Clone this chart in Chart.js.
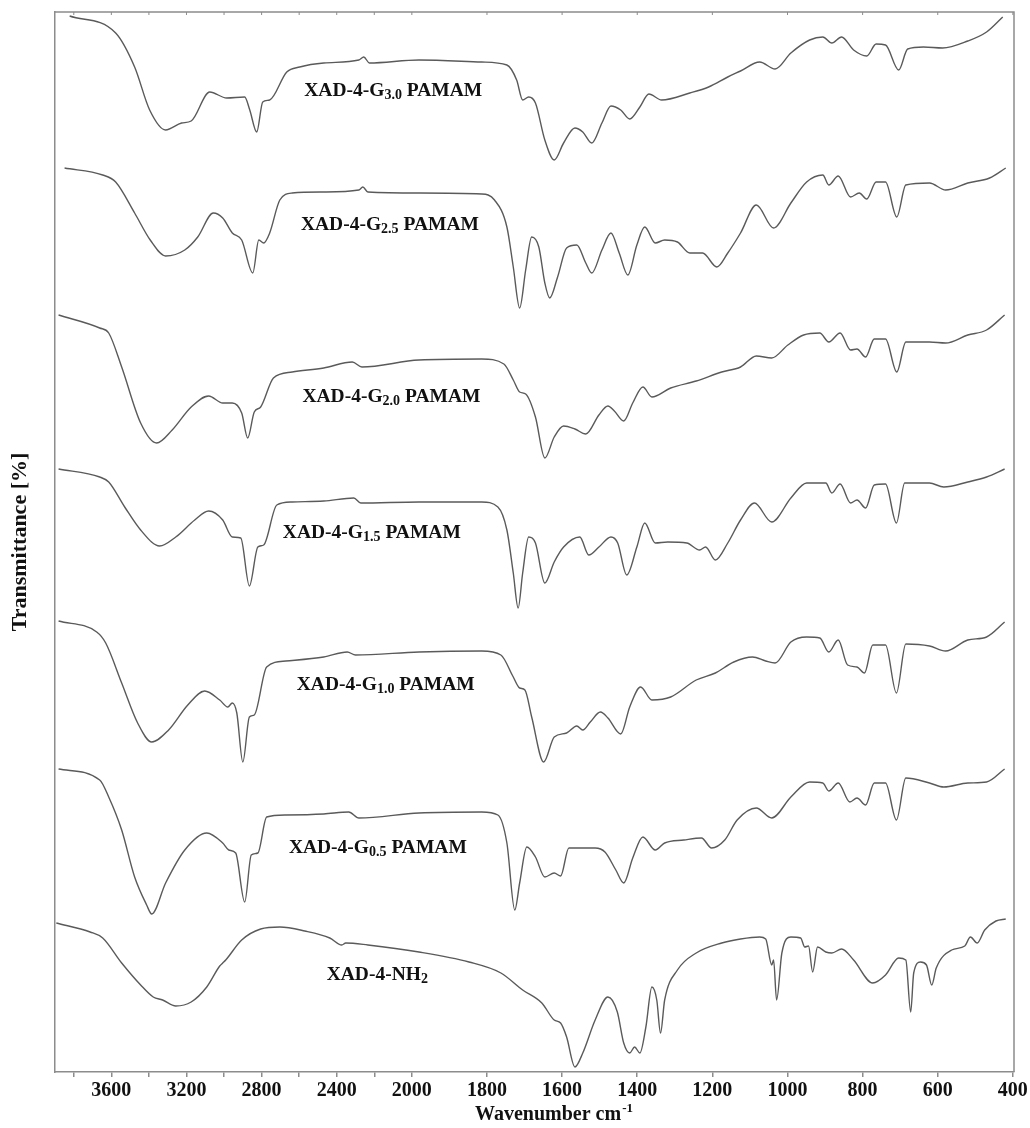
<!DOCTYPE html>
<html>
<head>
<meta charset="utf-8">
<script src="https://cdn.jsdelivr.net/npm/chart.js@4.4.1/dist/chart.umd.min.js"></script>
<style>
html,body{margin:0;padding:0;background:#ffffff;}
#wrap{width:1030px;height:1128px;}
</style>
</head>
<body>
<div id="wrap"><canvas id="c" width="1030" height="1128"></canvas></div>
<script>
// ---------- axis ticks (cm-1) ----------
const xTickValues = [3800,3600,3400,3200,3000,2800,2600,2400,2200,2000,1800,1600,1400,1200,1000,800,600,400];

// ---------- series names ----------
const seriesNames = ['XAD-4-G3.0 PAMAM','XAD-4-G2.5 PAMAM','XAD-4-G2.0 PAMAM','XAD-4-G1.5 PAMAM','XAD-4-G1.0 PAMAM','XAD-4-G0.5 PAMAM','XAD-4-NH2'];

// ---------- spectra: wavenumber (cm-1) and offset transmittance ----------
const wnG30 = [3822,3577,3476,3396,3311,3226,3175,3076,2986,2890,2863,2826,2794,2757,2666,2597,2469,2282,2256,2226,1981,1814,1747,1721,1705,1689,1671,1646,1621,1596,1566,1545,1521,1494,1470,1444,1420,1393,1369,1335,1260,1210,1159,1125,1074,1033,991,941,906,882,856,824,789,764,739,704,680,638,587,520,470,427];
const tG30  = [1056,1039,1005,962,942,949,951,980,974,975,962,940,970,972,1000,1005,1009,1012,1015,1009,1012,1010,1007,992,972,975,969,932,912,929,944,940,929,949,966,962,953,965,978,972,979,985,995,1001,1010,1003,1019,1032,1035,1029,1035,1022,1016,1028,1027,1002,1023,1025,1024,1031,1040,1055];

const wnG25 = [3849,3646,3577,3476,3393,3311,3209,3140,3057,3007,2956,2906,2847,2815,2789,2757,2703,2637,2469,2282,2261,2234,1981,1814,1780,1747,1730,1713,1697,1681,1662,1646,1633,1612,1588,1561,1537,1521,1494,1470,1448,1425,1401,1380,1352,1327,1293,1260,1226,1188,1159,1125,1083,1037,991,949,906,890,865,832,809,789,764,739,709,685,622,579,520,462,419];
const tG25  = [904,897,890,859,832,816,822,835,859,854,839,832,799,832,829,839,872,879,880,882,885,880,879,878,872,845,805,764,802,835,825,789,774,795,824,827,809,799,822,839,819,797,827,845,829,832,830,819,819,805,819,839,867,844,869,890,897,887,896,875,879,873,890,890,855,887,889,882,889,894,904];

const wnG20 = [3881,3662,3614,3545,3444,3359,3276,3175,3082,3007,2956,2906,2874,2839,2805,2737,2637,2469,2317,2266,1981,1814,1755,1730,1713,1697,1671,1646,1621,1596,1566,1537,1502,1478,1461,1436,1412,1385,1361,1311,1243,1175,1125,1083,1042,999,957,914,890,860,832,815,792,769,739,709,685,622,579,520,470,422];
const tG20  = [757,744,739,705,649,629,642,665,676,669,669,659,634,660,665,694,700,704,710,705,712,713,708,692,680,678,655,614,635,646,643,638,657,666,661,651,669,685,675,684,691,700,705,716,714,727,737,739,730,739,722,723,715,733,733,700,730,730,729,737,742,757];

const wnG15 = [3881,3662,3614,3529,3444,3343,3257,3156,3082,3007,2956,2911,2865,2820,2789,2719,2637,2469,2309,2272,1981,1814,1771,1747,1730,1717,1705,1689,1671,1646,1621,1596,1553,1529,1502,1470,1452,1428,1401,1380,1352,1319,1268,1234,1218,1192,1159,1125,1088,1042,991,949,898,882,860,832,815,792,769,739,710,688,622,584,520,470,422];
const tG15  = [603,595,590,565,542,526,535,552,561,552,535,534,486,525,527,567,570,571,574,569,570,570,565,542,499,464,499,535,529,489,510,525,535,517,525,535,529,497,525,549,529,530,529,522,525,512,529,552,569,550,574,589,589,579,588,569,572,564,587,588,549,589,589,585,590,595,603];

const wnG10 = [3881,3678,3630,3545,3460,3385,3295,3193,3103,3023,2980,2956,2932,2900,2865,2839,2773,2671,2469,2344,2300,1981,1814,1763,1730,1713,1699,1681,1649,1621,1588,1561,1545,1525,1498,1478,1444,1420,1391,1361,1311,1243,1192,1143,1093,1058,1033,991,949,914,890,865,840,815,795,773,739,710,685,622,579,520,470,422];
const tG10  = [451,440,429,389,349,330,342,367,381,372,365,369,359,310,355,357,405,411,415,420,417,420,421,417,395,384,382,355,310,335,339,346,342,350,360,354,338,365,385,372,375,392,399,410,415,411,409,430,435,434,420,432,407,405,399,427,427,379,428,426,421,432,435,450];

const wnG05 = [3881,3662,3614,3545,3476,3412,3385,3311,3209,3092,3007,2975,2938,2890,2855,2820,2773,2671,2469,2336,2282,1981,1814,1771,1747,1726,1713,1694,1671,1646,1621,1604,1582,1545,1512,1486,1457,1436,1412,1385,1352,1327,1276,1229,1202,1167,1134,1083,1042,991,941,906,890,865,834,815,792,769,739,710,685,622,584,520,470,422];
const tG05  = [303,292,275,242,195,167,158,189,222,239,229,222,219,170,217,219,255,257,258,260,254,259,260,257,229,162,189,225,215,195,199,196,224,224,224,220,202,189,214,235,222,229,232,234,224,232,252,264,254,275,290,289,281,289,270,274,267,289,289,252,294,289,285,289,290,303];

const wnNH2 = [3893,3713,3646,3545,3444,3377,3327,3257,3175,3092,3023,3007,2991,2906,2805,2703,2570,2437,2373,2352,2234,1981,1848,1763,1705,1654,1621,1604,1588,1566,1545,1512,1478,1453,1436,1420,1407,1393,1377,1361,1348,1338,1327,1293,1243,1175,1125,1074,1058,1042,1037,1029,1015,991,965,954,944,933,920,898,882,856,824,773,739,704,685,672,664,646,630,616,604,563,528,513,495,475,445,419];
const tNH2  = [149,140,134,109,87,75,72,66,70,85,106,109,112,132,143,145,141,134,127,129,127,120,110,99,82,69,52,49,35,5,19,52,75,60,29,19,25,19,45,85,72,39,72,102,119,129,133,135,133,107,112,72,119,135,134,125,126,100,125,120,119,123,112,89,97,114,112,60,99,110,107,87,104,122,126,135,129,142,151,153];

// ---------- in-plot label texts ----------
const labelMain = ['XAD-4-G','XAD-4-G','XAD-4-G','XAD-4-G','XAD-4-G','XAD-4-G','XAD-4-NH'];
const labelSub  = ['3.0','2.5','2.0','1.5','1.0','0.5','2'];
const labelTail = [' PAMAM',' PAMAM',' PAMAM',' PAMAM',' PAMAM',' PAMAM',''];
// label anchors (centre wavenumber, baseline value)
const labelWn = [2099,2117,2109,2213,2139,2181,2184];
const labelT  = [976,842,670,534,382,219,92];

const yTitle = 'Transmittance [%]';
const xTitleMain = 'Wavenumber cm';
const xTitleSup = '-1';

// ---------- styling ----------
const FF = "'Liberation Serif','Times New Roman',serif";
const AXIS = '#8c8c8c';
const LINE = '#5a5a5a';
const TEXT = '#111111';

// ---------- split wavenumber axis (2x compressed above 2000 cm-1) ----------
const BREAK = 2000;
function fwd(v){ return v > BREAK ? BREAK + (v - BREAK) / 2 : v; }
function inv(u){ return u > BREAK ? BREAK + (u - BREAK) * 2 : u; }
class SplitLinearScale extends Chart.LinearScale {
  configure(){
    super.configure();
    this._startValue = fwd(this.min);
    this._endValue = fwd(this.max);
    this._valueRange = this._endValue - this._startValue;
  }
  getPixelForValue(value){
    if (value === null || value === undefined || isNaN(value)) return NaN;
    return this.getPixelForDecimal((fwd(value) - this._startValue) / this._valueRange);
  }
  getValueForPixel(pixel){
    return inv(this._startValue + this.getDecimalForPixel(pixel) * this._valueRange);
  }
}
SplitLinearScale.id = 'splitLinear';
SplitLinearScale.defaults = Chart.LinearScale.defaults;
Chart.register(SplitLinearScale);

// ---------- plugins ----------
const framePlugin = {
  id: 'frame',
  afterDraw(chart){
    const {ctx, chartArea: a, scales: {x}} = chart;
    ctx.save();
    ctx.strokeStyle = AXIS;
    ctx.lineWidth = 1.5;
    ctx.beginPath();
    ctx.moveTo(a.left, a.top);
    ctx.lineTo(a.right, a.top);
    ctx.lineTo(a.right, a.bottom);
    ctx.stroke();
    ctx.lineWidth = 1;
    x.ticks.forEach(t => {
      const px = x.getPixelForValue(t.value);
      ctx.beginPath();
      ctx.moveTo(px, a.top);
      ctx.lineTo(px, a.top + 3);
      ctx.stroke();
    });
    ctx.restore();
  }
};

const traceLabelPlugin = {
  id: 'traceLabels',
  afterDatasetsDraw(chart){
    const {ctx, scales: {x, y}} = chart;
    const big = 'bold 19.5px ' + FF;
    const small = 'bold 14px ' + FF;
    ctx.save();
    ctx.fillStyle = TEXT;
    ctx.textAlign = 'left';
    ctx.textBaseline = 'alphabetic';
    labelMain.forEach((m, i) => {
      ctx.font = big;
      const w1 = ctx.measureText(m).width;
      const w3 = ctx.measureText(labelTail[i]).width;
      ctx.font = small;
      const w2 = ctx.measureText(labelSub[i]).width;
      const cx = x.getPixelForValue(labelWn[i]);
      const by = y.getPixelForValue(labelT[i]);
      let px = cx - (w1 + w2 + w3) / 2;
      ctx.font = big;  ctx.fillText(m, px, by); px += w1;
      ctx.font = small; ctx.fillText(labelSub[i], px, by + 3); px += w2;
      ctx.font = big;  ctx.fillText(labelTail[i], px, by);
    });
    ctx.restore();
  }
};

const xTitlePlugin = {
  id: 'xTitle',
  afterDraw(chart){
    const {ctx, chartArea: a} = chart;
    ctx.save();
    ctx.fillStyle = TEXT;
    ctx.textAlign = 'left';
    ctx.textBaseline = 'alphabetic';
    ctx.font = 'bold 20px ' + FF;
    const w1 = ctx.measureText(xTitleMain).width;
    ctx.font = 'bold 13px ' + FF;
    const w2 = ctx.measureText(xTitleSup).width;
    const cx = (a.left + a.right) / 2 + 19;
    const by = chart.height - 8;
    let px = cx - (w1 + w2) / 2;
    ctx.font = 'bold 20px ' + FF;
    ctx.fillText(xTitleMain, px, by); px += w1 + 1;
    ctx.font = 'bold 13px ' + FF;
    ctx.fillText(xTitleSup, px, by - 8);
    ctx.restore();
  }
};

// ---------- datasets ----------
const wnList = [wnG30, wnG25, wnG20, wnG15, wnG10, wnG05, wnNH2];
const tList  = [tG30, tG25, tG20, tG15, tG10, tG05, tNH2];
const datasets = seriesNames.map((name, k) => ({
  label: name,
  data: wnList[k].map((w, i) => ({x: w, y: tList[k][i]})),
  borderColor: LINE,
  borderWidth: 1.4,
  pointRadius: 0,
  fill: false,
  cubicInterpolationMode: 'monotone'
}));

new Chart(document.getElementById('c'), {
  type: 'line',
  data: {datasets},
  options: {
    responsive: false,
    animation: false,
    devicePixelRatio: 1,
    layout: {padding: {top: 12, right: 16, left: 0, bottom: 0}},
    plugins: {legend: {display: false}, tooltip: {enabled: false}},
    scales: {
      x: {
        type: 'splitLinear',
        min: 397,
        max: 3900,
        reverse: true,
        afterBuildTicks: s => { s.ticks = xTickValues.map(v => ({value: v})); },
        afterFit: s => { s.height = 56; },
        ticks: {
          autoSkip: false,
          maxRotation: 0,
          minRotation: 0,
          padding: 2,
          color: TEXT,
          font: {family: FF, size: 20, weight: 'bold'},
          callback: v => (v <= 2000 || v % 400 === 0) ? String(v) : ''
        },
        grid: {drawOnChartArea: false, drawTicks: true, tickLength: 5, color: AXIS, lineWidth: 1.5},
        border: {display: true, color: AXIS, width: 1.5}
      },
      y: {
        type: 'linear',
        min: 0,
        max: 1060,
        afterFit: s => { s.width = 55; },
        ticks: {display: false},
        grid: {drawOnChartArea: false, drawTicks: false},
        border: {display: true, color: AXIS, width: 1.5},
        title: {display: true, text: yTitle, color: TEXT, font: {family: FF, size: 22, weight: 'bold'}, padding: {top: 7, bottom: 0}}
      }
    }
  },
  plugins: [framePlugin, traceLabelPlugin, xTitlePlugin]
});
</script>
</body>
</html>
